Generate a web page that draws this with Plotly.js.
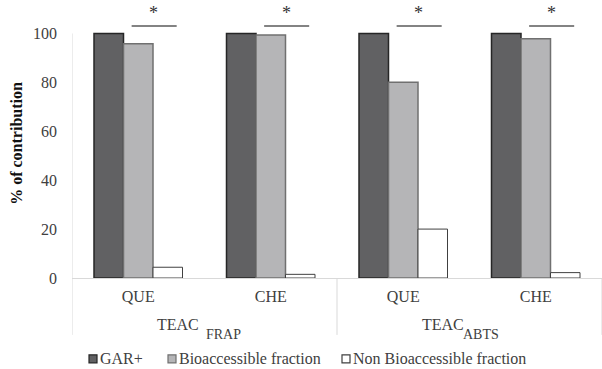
<!DOCTYPE html>
<html>
<head>
<meta charset="utf-8">
<script src="https://cdn.plot.ly/plotly-3.0.1.min.js"></script>
<style>html,body{margin:0;padding:0;background:#fff;}#chart{width:602px;height:369px;}</style>
</head>
<body>
<div id="chart"></div>
<script>
const groupMain = ["TEAC", "TEAC"];
const groupSub = ["FRAP", "ABTS"];
const compounds = ["QUE", "CHE", "QUE", "CHE"];
const garPlus = [100, 100, 100, 100];
const bioaccessible = [95.8, 99.4, 80.0, 97.8];
const nonBioaccessible = [4.4, 1.5, 20.0, 2.2];
const significant = ["*", "*", "*", "*"];
const seriesNames = ["GAR+", "Bioaccessible fraction", "Non Bioaccessible fraction"];

const xs = compounds.map((_, i) => i);
const font = "Liberation Serif, Times New Roman, serif";
const txt = "#404040";

const fills = ["#616163", "#b5b5b7", "#ffffff"];
const borders = ["#262626", "#707070", "#404040"];
const widths = [1.5, 1.5, 1];
const series = [garPlus, bioaccessible, nonBioaccessible];

const traces = series.map((ys, k) => ({
  type: "bar", name: seriesNames[k], x: xs, y: ys, showlegend: false,
  marker: {color: fills[k], line: {color: borders[k], width: widths[k]}}
}));

// plot area geometry (pixels)
const L = 72, R = 602, T = 8.5, B = 278;
const px2paperX = p => (p - L) / (R - L);
const px2paperY = p => (B - p) / (B - T);

const shapes = [];
const annotations = [];
// significance bars
significant.forEach((s, i) => {
  shapes.push({type: "line", xref: "x", yref: "y", x0: i - 0.05, x1: i + 0.29, y0: 103, y1: 103,
    line: {color: "#5a5a5a", width: 1.5}});
  annotations.push({xref: "x", yref: "y", x: i + 0.117, y: 108.3, text: s, showarrow: false,
    font: {family: font, size: 18, color: "#333"}});
});
// left axis line + dividers
[-0.5, 1.5, 3.5].forEach((d, k) => {
  shapes.push({type: "line", xref: "x", yref: "paper", x0: d, x1: d,
    y0: k === 0 ? 100 / 110 : 0, y1: px2paperY(335), line: {color: "#d9d9d9", width: 1}});
});
// group labels (TEAC with lowered subscript)
const mainShift = [-3.5, -4];
const subShift = [-0.5, -9];
groupMain.forEach((g, k) => {
  annotations.push({xref: "x", yref: "paper", x: 2 * k + 0.5, xanchor: "right", xshift: mainShift[k],
    y: px2paperY(325), yanchor: "middle", text: g, showarrow: false,
    font: {family: font, size: 16, color: txt}});
  annotations.push({xref: "x", yref: "paper", x: 2 * k + 0.5, xanchor: "left", xshift: subShift[k],
    y: px2paperY(335), yanchor: "middle", text: groupSub[k], showarrow: false,
    font: {family: font, size: 14, color: txt}});
});
// legend (custom, compact like the reference)
const legMarkX = [89, 168, 342];
const legY = 359;
seriesNames.forEach((n, k) => {
  shapes.push({type: "rect", xref: "paper", yref: "paper",
    x0: px2paperX(legMarkX[k]), x1: px2paperX(legMarkX[k] + 8),
    y0: px2paperY(legY - 4), y1: px2paperY(legY + 4),
    fillcolor: fills[k], line: {color: borders[k], width: 1.2}});
  annotations.push({xref: "paper", yref: "paper", x: px2paperX(legMarkX[k] + 9), xanchor: "left",
    y: px2paperY(legY), yanchor: "middle", text: n, showarrow: false,
    font: {family: font, size: 16, color: txt}});
});

const layout = {
  width: 602, height: 369,
  margin: {l: L, r: 602 - R, t: T, b: 369 - B},
  paper_bgcolor: "#fff", plot_bgcolor: "#fff",
  barmode: "group", bargap: 0.332, bargroupgap: 0,
  showlegend: false,
  xaxis: {range: [-0.5, 3.5], tickvals: xs, ticktext: compounds, ticks: "", showgrid: false,
    zeroline: false, showline: true, linecolor: "#d9d9d9", linewidth: 1, ticklabelstandoff: 4,
    tickfont: {family: font, size: 16, color: txt}},
  yaxis: {range: [0, 110], tickvals: [0, 20, 40, 60, 80, 100], showgrid: false, zeroline: false,
    showline: false, ticks: "", ticklabelstandoff: 14,
    tickfont: {family: font, size: 16, color: txt},
    title: {text: "<b>% of contribution</b>", font: {family: font, size: 16, color: "#111"}, standoff: 6}},
  shapes: shapes, annotations: annotations,
  font: {family: font}
};

Plotly.newPlot("chart", traces, layout, {displayModeBar: false, staticPlot: true});
</script>
</body>
</html>
